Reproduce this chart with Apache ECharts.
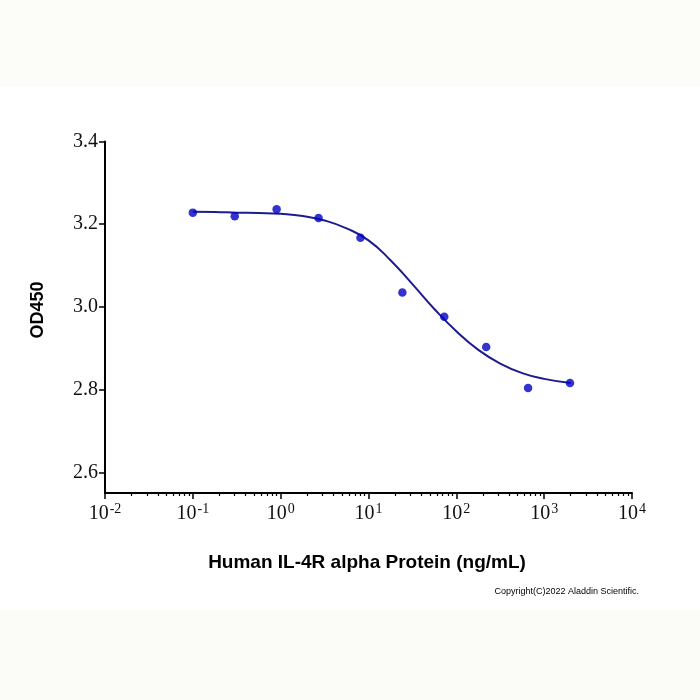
<!DOCTYPE html>
<html>
<head>
<meta charset="utf-8">
<script src="https://cdn.jsdelivr.net/npm/echarts@6/dist/echarts.min.js"></script>
<style>html,body{margin:0;padding:0;background:#fff}#c{width:700px;height:700px}</style>
</head>
<body>
<div id="c"></div>
<script>
// Concentrations (ng/mL) and measured OD450
const concentrations = [0.1, 0.3, 0.9, 2.7, 8.1, 24.3, 72.9, 218.7, 656.1, 1968.3];
const od450 = [3.228, 3.219, 3.236, 3.215, 3.167, 3.035, 2.976, 2.903, 2.804, 2.816];
// Fitted curve
const curveConc = [0.1, 0.178, 0.316, 0.562, 1, 1.78, 3.16, 5.62, 10, 17.8, 31.6, 56.2, 100, 178, 316, 562, 1000, 2000];
const curveOD = [3.230, 3.2295, 3.228, 3.227, 3.225, 3.220, 3.209, 3.190, 3.161, 3.113, 3.055, 2.995, 2.941, 2.896, 2.863, 2.840, 2.826, 2.816];
// Axis ticks
const xDecades = [-2, -1, 0, 1, 2, 3, 4];
const yTicks = [2.6, 2.8, 3.0, 3.2, 3.4];

const minorTicks = [];
for (let i = 0; i < xDecades.length - 1; i++) {
  for (let k = 2; k <= 9; k++) minorTicks.push(xDecades[i] + Math.log10(k));
}

const chart = echarts.init(document.getElementById('c'), null, {renderer: 'canvas'});
const serif = '"Liberation Serif", "Times New Roman", serif';
const sans = '"Liberation Sans", Arial, sans-serif';

chart.setOption({
  backgroundColor: '#ffffff',
  animation: false,
  graphic: [
    {type: 'rect', z: -10, shape: {x: 0, y: 0, width: 700, height: 87}, style: {fill: '#fcfdf8'}},
    {type: 'rect', z: -10, shape: {x: 0, y: 610, width: 700, height: 90}, style: {fill: '#fbfcf7'}},
    {type: 'text', x: 38, y: 310, rotation: Math.PI / 2,
      style: {text: 'OD450', font: 'bold 18px ' + sans, fill: '#000', align: 'center', verticalAlign: 'middle'}},
    {type: 'text', x: 367, y: 563,
      style: {text: 'Human IL-4R alpha Protein (ng/mL)', font: 'bold 19px ' + sans, fill: '#000', align: 'center', verticalAlign: 'middle'}},
    {type: 'text', x: 639, y: 592,
      style: {text: 'Copyright(C)2022 Aladdin Scientific.', font: '9px ' + sans, fill: '#000', align: 'right', verticalAlign: 'middle'}}
  ],
  grid: {left: 105, right: 68, top: 141.5, bottom: 207, containLabel: false},
  xAxis: [
    {
      type: 'value', min: -2, max: 4, interval: 1,
      axisLine: {show: true, onZero: false, lineStyle: {color: '#000', width: 2}},
      axisTick: {show: true, length: 6, lineStyle: {color: '#000', width: 1.5}},
      splitLine: {show: false},
      axisLabel: {
        margin: 9,
        formatter: v => '{b|10}{s|' + v + '}',
        rich: {
          b: {fontFamily: serif, fontSize: 20, color: '#111'},
          s: {fontFamily: serif, fontSize: 14, color: '#111', padding: [0, 0, 10, 1]}
        }
      }
    },
    {
      type: 'value', min: -2, max: 4, position: 'bottom',
      axisLine: {show: false, onZero: false},
      axisTick: {show: true, length: 3, customValues: minorTicks, lineStyle: {color: '#000', width: 1.2}},
      axisLabel: {show: false},
      splitLine: {show: false}
    }
  ],
  yAxis: {
    type: 'value', min: 2.55, max: 3.4,
    axisLine: {show: true, onZero: false, lineStyle: {color: '#000', width: 2}},
    axisTick: {show: true, length: 6, customValues: yTicks, lineStyle: {color: '#000', width: 1.5}},
    splitLine: {show: false},
    axisLabel: {
      customValues: yTicks, margin: 7,
      formatter: v => v.toFixed(1),
      fontFamily: serif, fontSize: 20, color: '#111'
    }
  },
  series: [
    {
      type: 'line', xAxisIndex: 0, smooth: true, symbol: 'none',
      lineStyle: {color: '#1c1c8e', width: 2},
      data: curveConc.map((c, i) => [Math.log10(c), curveOD[i]]),
      z: 2
    },
    {
      type: 'scatter', xAxisIndex: 0, symbol: 'circle', symbolSize: 8.5,
      itemStyle: {color: '#0000c4'},
      data: concentrations.map((c, i) => [Math.log10(c), od450[i]]),
      z: 3
    }
  ]
});
</script>
</body>
</html>
